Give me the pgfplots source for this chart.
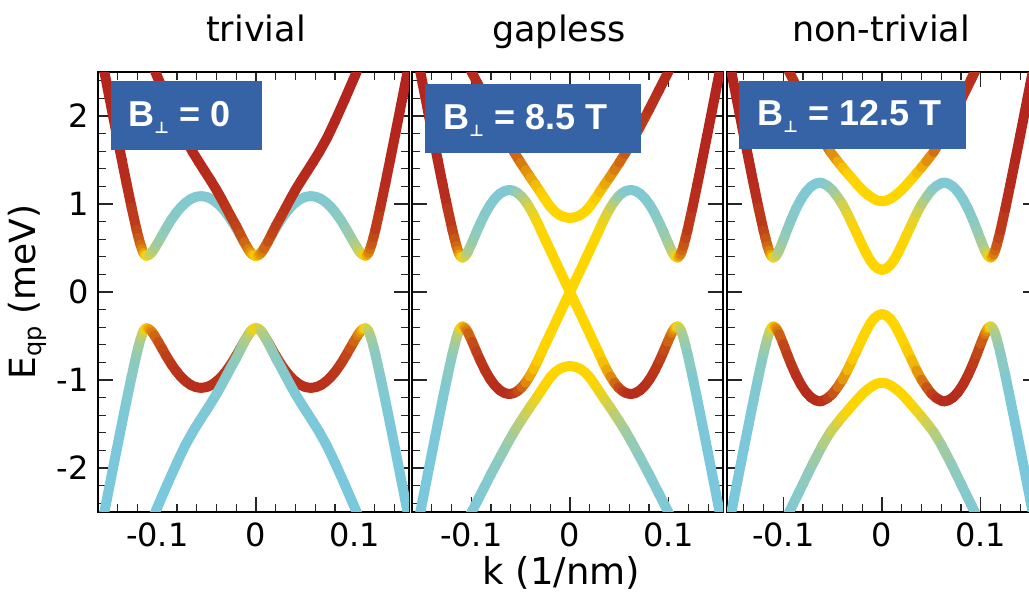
\documentclass[border=0pt]{standalone}
\usepackage{fontspec}
\setmainfont{DejaVu Sans}
\newfontfamily\boxfont{Liberation Sans}
\newfontfamily\symfont{DejaVu Sans}
\usepackage{pgfplots}
\usepackage{pgfplotstable}
\pgfplotsset{compat=1.18}
\definecolor{boxblue}{RGB}{53,99,165}
\pgfplotsset{colormap={band}{rgb255(0cm)=(120,200,225) rgb255(1cm)=(255,213,0) rgb255(2cm)=(178,34,30)}}

% columns: k, upper E, upper weight, lower E, lower weight
\pgfplotstableread[row sep=\\]{
k E m El ml\\
-0.161 2.929 .995 -2.929 .005\\
-0.151 2.356 .992 -2.356 .008\\
-0.141 1.788 .987 -1.788 .013\\
-0.136 1.507 .981 -1.507 .019\\
-0.131 1.230 .971 -1.230 .029\\
-0.126 .962 .952 -.962 .048\\
-0.121 .710 .908 -.710 .092\\
-0.119 .620 .880 -.620 .120\\
-0.117 .538 .824 -.538 .176\\
-0.1155 .488 .765 -.488 .235\\
-0.114 .445 .695 -.445 .305\\
-0.1125 .422 .600 -.422 .400\\
-0.111 .41 .5 -.41 .5\\
-0.109 .418 .415 -.418 .585\\
-0.107 .433 .338 -.433 .662\\
-0.105 .458 .275 -.458 .725\\
-0.103 .491 .225 -.491 .775\\
-0.099 .566 .156 -.566 .844\\
-0.095 .645 .114 -.645 .886\\
-0.091 .724 .088 -.724 .912\\
-0.086 .816 .068 -.816 .932\\
-0.081 .896 .055 -.896 .945\\
-0.076 .964 .048 -.964 .952\\
-0.071 1.017 .042 -1.017 .958\\
-0.066 1.057 .039 -1.057 .961\\
-0.061 1.081 .037 -1.081 .963\\
-0.0555 1.090 .037 -1.090 .963\\
-0.05 1.081 .037 -1.081 .963\\
-0.045 1.057 .039 -1.057 .961\\
-0.04 1.017 .042 -1.017 .958\\
-0.035 .964 .048 -.964 .952\\
-0.03 .896 .055 -.896 .945\\
-0.025 .816 .068 -.816 .932\\
-0.02 .724 .088 -.724 .912\\
-0.016 .645 .114 -.645 .886\\
-0.012 .566 .156 -.566 .844\\
-0.008 .491 .225 -.491 .775\\
-0.006 .458 .275 -.458 .725\\
-0.004 .433 .338 -.433 .662\\
-0.002 .418 .415 -.418 .585\\
0 .41 .5 -.41 .5\\
0.002 .418 .415 -.418 .585\\
0.004 .433 .338 -.433 .662\\
0.006 .458 .275 -.458 .725\\
0.008 .491 .225 -.491 .775\\
0.012 .566 .156 -.566 .844\\
0.016 .645 .114 -.645 .886\\
0.02 .724 .088 -.724 .912\\
0.025 .816 .068 -.816 .932\\
0.03 .896 .055 -.896 .945\\
0.035 .964 .048 -.964 .952\\
0.04 1.017 .042 -1.017 .958\\
0.045 1.057 .039 -1.057 .961\\
0.05 1.081 .037 -1.081 .963\\
0.0555 1.090 .037 -1.090 .963\\
0.061 1.081 .037 -1.081 .963\\
0.066 1.057 .039 -1.057 .961\\
0.071 1.017 .042 -1.017 .958\\
0.076 .964 .048 -.964 .952\\
0.081 .896 .055 -.896 .945\\
0.086 .816 .068 -.816 .932\\
0.091 .724 .088 -.724 .912\\
0.095 .645 .114 -.645 .886\\
0.099 .566 .156 -.566 .844\\
0.103 .491 .225 -.491 .775\\
0.105 .458 .275 -.458 .725\\
0.107 .433 .338 -.433 .662\\
0.109 .418 .415 -.418 .585\\
0.111 .41 .5 -.41 .5\\
0.1125 .422 .600 -.422 .400\\
0.114 .445 .695 -.445 .305\\
0.1155 .488 .765 -.488 .235\\
0.117 .538 .824 -.538 .176\\
0.119 .620 .880 -.620 .120\\
0.121 .710 .908 -.710 .092\\
0.126 .962 .952 -.962 .048\\
0.131 1.230 .971 -1.230 .029\\
0.136 1.507 .981 -1.507 .019\\
0.141 1.788 .987 -1.788 .013\\
0.151 2.356 .992 -2.356 .008\\
0.161 2.929 .995 -2.929 .005\\
}\pOneW

\pgfplotstableread[row sep=\\]{
k E m El ml\\
-0.11 2.71 .993 -2.71 .007\\
-0.1 2.45 .992 -2.45 .008\\
-0.09 2.19 .99 -2.19 .01\\
-0.08 1.94 .988 -1.94 .012\\
-0.072 1.75 .985 -1.75 .015\\
-0.064 1.59 .983 -1.59 .017\\
-0.058 1.48 .98 -1.48 .02\\
-0.052 1.375 .977 -1.375 .023\\
-0.046 1.27 .974 -1.27 .026\\
-0.04 1.16 .968 -1.16 .032\\
-0.035 1.06 .961 -1.06 .039\\
-0.03 .955 .951 -.955 .049\\
-0.025 .85 .938 -.85 .062\\
-0.02 .75 .919 -.75 .081\\
-0.016 .66 .892 -.66 .108\\
-0.012 .57 .847 -.57 .153\\
-0.008 .49 .774 -.49 .226\\
-0.006 .455 .72 -.455 .28\\
-0.004 .43 .651 -.43 .349\\
-0.002 .415 .58 -.415 .42\\
0 .41 .5 -.41 .5\\
0.002 .415 .58 -.415 .42\\
0.004 .43 .651 -.43 .349\\
0.006 .455 .72 -.455 .28\\
0.008 .49 .774 -.49 .226\\
0.012 .57 .847 -.57 .153\\
0.016 .66 .892 -.66 .108\\
0.02 .75 .919 -.75 .081\\
0.025 .85 .938 -.85 .062\\
0.03 .955 .951 -.955 .049\\
0.035 1.06 .961 -1.06 .039\\
0.04 1.16 .968 -1.16 .032\\
0.046 1.27 .974 -1.27 .026\\
0.052 1.375 .977 -1.375 .023\\
0.058 1.48 .98 -1.48 .02\\
0.064 1.59 .983 -1.59 .017\\
0.072 1.75 .985 -1.75 .015\\
0.08 1.94 .988 -1.94 .012\\
0.09 2.19 .99 -2.19 .01\\
0.1 2.45 .992 -2.45 .008\\
0.11 2.71 .993 -2.71 .007\\
}\pOneV

\pgfplotstableread[row sep=\\]{
k E m El ml\\
-0.159 2.926 .995 -2.926 .005\\
-0.149 2.353 .993 -2.353 .007\\
-0.139 1.783 .988 -1.783 .012\\
-0.134 1.502 .983 -1.502 .017\\
-0.129 1.224 .974 -1.224 .026\\
-0.124 .953 .956 -.953 .044\\
-0.119 .699 .915 -.699 .085\\
-0.117 .610 .880 -.610 .120\\
-0.115 .523 .833 -.523 .167\\
-0.1135 .470 .775 -.470 .225\\
-0.112 .427 .704 -.427 .296\\
-0.1105 .402 .605 -.402 .395\\
-0.109 .39 .5 -.39 .5\\
-0.1075 .398 .415 -.398 .585\\
-0.106 .412 .339 -.412 .661\\
-0.1045 .436 .275 -.436 .725\\
-0.103 .467 .224 -.467 .776\\
-0.099 .566 .138 -.566 .862\\
-0.095 .672 .093 -.672 .907\\
-0.091 .774 .068 -.774 .932\\
-0.086 .89 .051 -.89 .949\\
-0.081 .987 .041 -.987 .959\\
-0.076 1.063 .035 -1.063 .965\\
-0.071 1.118 .031 -1.118 .969\\
-0.066 1.15 .03 -1.15 .97\\
-0.0615 1.16 .03 -1.16 .97\\
-0.057 1.15 .05 -1.15 .95\\
-0.053 1.125 .09 -1.125 .91\\
-0.049 1.085 .15 -1.085 .85\\
-0.045 1.03 .24 -1.03 .76\\
-0.041 .96 .33 -.96 .67\\
-0.037 .88 .41 -.88 .59\\
-0.033 .79 .46 -.79 .54\\
-0.029 .69 .49 -.69 .51\\
-0.025 .595 .5 -.595 .5\\
-0.02 .475 .5 -.475 .5\\
-0.015 .355 .5 -.355 .5\\
-0.01 .237 .5 -.237 .5\\
-0.005 .118 .5 -.118 .5\\
0 0 .5 0 .5\\
0.005 .118 .5 -.118 .5\\
0.01 .237 .5 -.237 .5\\
0.015 .355 .5 -.355 .5\\
0.02 .475 .5 -.475 .5\\
0.025 .595 .5 -.595 .5\\
0.029 .69 .49 -.69 .51\\
0.033 .79 .46 -.79 .54\\
0.037 .88 .41 -.88 .59\\
0.041 .96 .33 -.96 .67\\
0.045 1.03 .24 -1.03 .76\\
0.049 1.085 .15 -1.085 .85\\
0.053 1.125 .09 -1.125 .91\\
0.057 1.15 .05 -1.15 .95\\
0.0615 1.16 .03 -1.16 .97\\
0.066 1.15 .03 -1.15 .97\\
0.071 1.118 .031 -1.118 .969\\
0.076 1.063 .035 -1.063 .965\\
0.081 .987 .041 -.987 .959\\
0.086 .89 .051 -.89 .949\\
0.091 .774 .068 -.774 .932\\
0.095 .672 .093 -.672 .907\\
0.099 .566 .138 -.566 .862\\
0.103 .467 .224 -.467 .776\\
0.1045 .436 .275 -.436 .725\\
0.106 .412 .339 -.412 .661\\
0.1075 .398 .415 -.398 .585\\
0.109 .39 .5 -.39 .5\\
0.1105 .402 .605 -.402 .395\\
0.112 .427 .704 -.427 .296\\
0.1135 .470 .775 -.470 .225\\
0.115 .523 .833 -.523 .167\\
0.117 .610 .880 -.610 .120\\
0.119 .699 .915 -.699 .085\\
0.124 .953 .956 -.953 .044\\
0.129 1.224 .974 -1.224 .026\\
0.134 1.502 .983 -1.502 .017\\
0.139 1.783 .988 -1.783 .012\\
0.149 2.353 .993 -2.353 .007\\
0.159 2.926 .995 -2.926 .005\\
}\pTwoW

\pgfplotstableread[row sep=\\]{
k E m El ml\\
-0.11 2.73 .98 -2.73 .02\\
-0.1 2.51 .98 -2.51 .02\\
-0.09 2.29 .97 -2.29 .03\\
-0.08 2.07 .95 -2.07 .05\\
-0.07 1.86 .92 -1.86 .08\\
-0.062 1.695 .88 -1.695 .12\\
-0.0556 1.57 .83 -1.57 .17\\
-0.05 1.47 .78 -1.47 .22\\
-0.045 1.385 .72 -1.385 .28\\
-0.04 1.3 .66 -1.3 .34\\
-0.035 1.22 .6 -1.22 .4\\
-0.03 1.135 .54 -1.135 .46\\
-0.025 1.05 .5 -1.05 .5\\
-0.02 .97 .5 -.97 .5\\
-0.015 .91 .5 -.91 .5\\
-0.01 .87 .5 -.87 .5\\
-0.005 .85 .5 -.85 .5\\
0 .84 .5 -.84 .5\\
0.005 .85 .5 -.85 .5\\
0.01 .87 .5 -.87 .5\\
0.015 .91 .5 -.91 .5\\
0.02 .97 .5 -.97 .5\\
0.025 1.05 .5 -1.05 .5\\
0.03 1.135 .54 -1.135 .46\\
0.035 1.22 .6 -1.22 .4\\
0.04 1.3 .66 -1.3 .34\\
0.045 1.385 .72 -1.385 .28\\
0.05 1.47 .78 -1.47 .22\\
0.0556 1.57 .83 -1.57 .17\\
0.062 1.695 .88 -1.695 .12\\
0.07 1.86 .92 -1.86 .08\\
0.08 2.07 .95 -2.07 .05\\
0.09 2.29 .97 -2.29 .03\\
0.1 2.51 .98 -2.51 .02\\
0.11 2.73 .98 -2.73 .02\\
}\pTwoV

\pgfplotstableread[row sep=\\]{
k E m El ml\\
-0.16 2.926 .995 -2.926 .005\\
-0.15 2.353 .993 -2.353 .007\\
-0.14 1.783 .988 -1.783 .012\\
-0.135 1.502 .983 -1.502 .017\\
-0.13 1.224 .974 -1.224 .026\\
-0.125 .953 .956 -.953 .044\\
-0.12 .699 .915 -.699 .085\\
-0.118 .610 .880 -.610 .120\\
-0.116 .523 .833 -.523 .167\\
-0.1145 .470 .775 -.470 .225\\
-0.113 .427 .704 -.427 .296\\
-0.1115 .402 .605 -.402 .395\\
-0.11 .39 .5 -.39 .5\\
-0.1085 .399 .410 -.399 .590\\
-0.107 .416 .327 -.416 .673\\
-0.1055 .445 .262 -.445 .738\\
-0.104 .479 .209 -.479 .791\\
-0.1 .59 .125 -.59 .875\\
-0.096 .709 .083 -.709 .917\\
-0.092 .822 .06 -.822 .94\\
-0.087 .948 .044 -.948 .956\\
-0.082 1.054 .035 -1.054 .965\\
-0.077 1.138 .03 -1.138 .97\\
-0.072 1.198 .027 -1.198 .973\\
-0.067 1.233 .026 -1.233 .974\\
-0.0623 1.244 .03 -1.244 .97\\
-0.06 1.235 .035 -1.235 .965\\
-0.055 1.205 .06 -1.205 .94\\
-0.05 1.155 .1 -1.155 .9\\
-0.045 1.08 .18 -1.08 .82\\
-0.04 .995 .28 -.995 .72\\
-0.035 .89 .38 -.89 .62\\
-0.03 .77 .45 -.77 .55\\
-0.025 .65 .49 -.65 .51\\
-0.02 .53 .5 -.53 .5\\
-0.016 .44 .5 -.44 .5\\
-0.012 .36 .5 -.36 .5\\
-0.008 .3 .5 -.3 .5\\
-0.004 .265 .5 -.265 .5\\
0 .25 .5 -.25 .5\\
0.004 .265 .5 -.265 .5\\
0.008 .3 .5 -.3 .5\\
0.012 .36 .5 -.36 .5\\
0.016 .44 .5 -.44 .5\\
0.02 .53 .5 -.53 .5\\
0.025 .65 .49 -.65 .51\\
0.03 .77 .45 -.77 .55\\
0.035 .89 .38 -.89 .62\\
0.04 .995 .28 -.995 .72\\
0.045 1.08 .18 -1.08 .82\\
0.05 1.155 .1 -1.155 .9\\
0.055 1.205 .06 -1.205 .94\\
0.06 1.235 .035 -1.235 .965\\
0.0623 1.244 .03 -1.244 .97\\
0.067 1.233 .026 -1.233 .974\\
0.072 1.198 .027 -1.198 .973\\
0.077 1.138 .03 -1.138 .97\\
0.082 1.054 .035 -1.054 .965\\
0.087 .948 .044 -.948 .956\\
0.092 .822 .06 -.822 .94\\
0.096 .709 .083 -.709 .917\\
0.1 .59 .125 -.59 .875\\
0.104 .479 .209 -.479 .791\\
0.1055 .445 .262 -.445 .738\\
0.107 .416 .327 -.416 .673\\
0.1085 .399 .410 -.399 .590\\
0.11 .39 .5 -.39 .5\\
0.1115 .402 .605 -.402 .395\\
0.113 .427 .704 -.427 .296\\
0.1145 .470 .775 -.470 .225\\
0.116 .523 .833 -.523 .167\\
0.118 .610 .880 -.610 .120\\
0.12 .699 .915 -.699 .085\\
0.125 .953 .956 -.953 .044\\
0.13 1.224 .974 -1.224 .026\\
0.135 1.502 .983 -1.502 .017\\
0.14 1.783 .988 -1.783 .012\\
0.15 2.353 .993 -2.353 .007\\
0.16 2.926 .995 -2.926 .005\\
}\pThreeW

\pgfplotstableread[row sep=\\]{
k E m El ml\\
-0.11 2.87 .98 -2.87 .02\\
-0.1 2.64 .97 -2.64 .03\\
-0.09 2.41 .96 -2.41 .04\\
-0.08 2.18 .94 -2.18 .06\\
-0.07 1.95 .9 -1.95 .1\\
-0.06 1.735 .83 -1.735 .17\\
-0.0522 1.59 .74 -1.59 .26\\
-0.045 1.485 .65 -1.485 .35\\
-0.04 1.415 .58 -1.415 .42\\
-0.035 1.35 .53 -1.35 .47\\
-0.03 1.285 .5 -1.285 .5\\
-0.025 1.22 .5 -1.22 .5\\
-0.02 1.16 .5 -1.16 .5\\
-0.015 1.11 .5 -1.11 .5\\
-0.01 1.07 .5 -1.07 .5\\
-0.005 1.04 .5 -1.04 .5\\
0 1.03 .5 -1.03 .5\\
0.005 1.04 .5 -1.04 .5\\
0.01 1.07 .5 -1.07 .5\\
0.015 1.11 .5 -1.11 .5\\
0.02 1.16 .5 -1.16 .5\\
0.025 1.22 .5 -1.22 .5\\
0.03 1.285 .5 -1.285 .5\\
0.035 1.35 .53 -1.35 .47\\
0.04 1.415 .58 -1.415 .42\\
0.045 1.485 .65 -1.485 .35\\
0.0522 1.59 .74 -1.59 .26\\
0.06 1.735 .83 -1.735 .17\\
0.07 1.95 .9 -1.95 .1\\
0.08 2.18 .94 -2.18 .06\\
0.09 2.41 .96 -2.41 .04\\
0.1 2.64 .97 -2.64 .03\\
0.11 2.87 .98 -2.87 .02\\
}\pThreeV

\pgfplotsset{
  panel/.style={
    scale only axis, width=155.5pt, height=220pt, anchor=south west,
    ymin=-2.5, ymax=2.5, xmin=-0.16, xmax=0.155,
    xtick={-0.1,0,0.1}, xticklabels={-0.1,0,0.1},
    ytick={-2,-1,0,1,2}, yticklabels={-2,-1,0,1,2},
    minor xtick={-0.14,-0.12,-0.08,-0.06,-0.04,-0.02,0.02,0.04,0.06,0.08,0.12,0.14},
    minor ytick={-2.4,-2.2,-1.8,-1.6,-1.4,-1.2,-0.8,-0.6,-0.4,-0.2,0.2,0.4,0.6,0.8,1.2,1.4,1.6,1.8,2.2,2.4},
    tick align=inside, tick pos=both,
    major tick length=7.5pt, minor tick length=4pt,
    tick style={black!85, line width=0.6pt},
    axis line style={black, line width=1pt},
    colormap name=band, point meta min=0, point meta max=1,
    tick label style={font=\fontsize{16}{19}\selectfont},
    x tick label style={anchor=base, inner sep=0pt, yshift=-17.5pt},
    y tick label style={anchor=east, inner sep=0pt, xshift=-4.5pt},
  },
  band/.style={mesh, shader=flat, point meta=explicit, line width=5pt, line cap=round, line join=round, forget plot},
}
\newcommand{\boxtxt}[1]{{\boxfont\bfseries\fontsize{18}{20}\selectfont B\raisebox{-3.5pt}{\symfont\fontsize{8}{8}\selectfont ⊥} = #1}}

\begin{document}
\begin{tikzpicture}
\begin{axis}[panel, at={(49pt,46pt)}]
  \addplot[band] table[x=k, y=E, meta=m] {\pOneW};
  \addplot[band] table[x=k, y=El, meta=ml] {\pOneW};
  \addplot[band] table[x=k, y=E, meta=m] {\pOneV};
  \addplot[band] table[x=k, y=El, meta=ml] {\pOneV};
\end{axis}
\begin{axis}[panel, at={(206pt,46pt)}, yticklabels={}]
  \addplot[band] table[x=k, y=E, meta=m] {\pTwoW};
  \addplot[band] table[x=k, y=El, meta=ml] {\pTwoW};
  \addplot[band] table[x=k, y=E, meta=m] {\pTwoV};
  \addplot[band] table[x=k, y=El, meta=ml] {\pTwoV};
\end{axis}
\begin{axis}[panel, at={(363.5pt,46pt)}, xmin=-0.157, xmax=0.158, yticklabels={}]
  \addplot[band] table[x=k, y=E, meta=m] {\pThreeW};
  \addplot[band] table[x=k, y=El, meta=ml] {\pThreeW};
  \addplot[band] table[x=k, y=E, meta=m] {\pThreeV};
  \addplot[band] table[x=k, y=El, meta=ml] {\pThreeV};
\end{axis}
% panel labels
\fill[boxblue] (55.5pt,227pt) rectangle (131pt,261.5pt);
\node[anchor=base west, inner sep=0pt, text=white] at (64pt,238.5pt) {\boxtxt{0}};
\fill[boxblue] (212.5pt,225.5pt) rectangle (320.5pt,260pt);
\node[anchor=base west, inner sep=0pt, text=white] at (221.5pt,237pt) {\boxtxt{8.5 T}};
\fill[boxblue] (369.5pt,227.5pt) rectangle (483pt,261.5pt);
\node[anchor=base west, inner sep=0pt, text=white] at (378.5pt,239pt) {\boxtxt{12.5 T}};
% titles
\node[anchor=base, font=\fontsize{17.5}{20}\selectfont] at (128pt,281pt) {trivial};
\node[anchor=base, font=\fontsize{17.5}{20}\selectfont] at (279.5pt,281pt) {gapless};
\node[anchor=base, font=\fontsize{17.5}{20}\selectfont] at (440.5pt,281pt) {non-trivial};
% axis labels
\node[anchor=base, font=\fontsize{18.5}{21}\selectfont] at (280.75pt,9.5pt) {k (1/nm)};
\node[rotate=90, anchor=base, font=\fontsize{18}{21}\selectfont] at (17.5pt,156pt) {E\raisebox{-3pt}{\fontsize{12}{12}\selectfont qp} (meV)};
\pgfresetboundingbox
\path[use as bounding box] (0pt,0pt) rectangle (514.5pt,302pt);
\end{tikzpicture}
\end{document}
